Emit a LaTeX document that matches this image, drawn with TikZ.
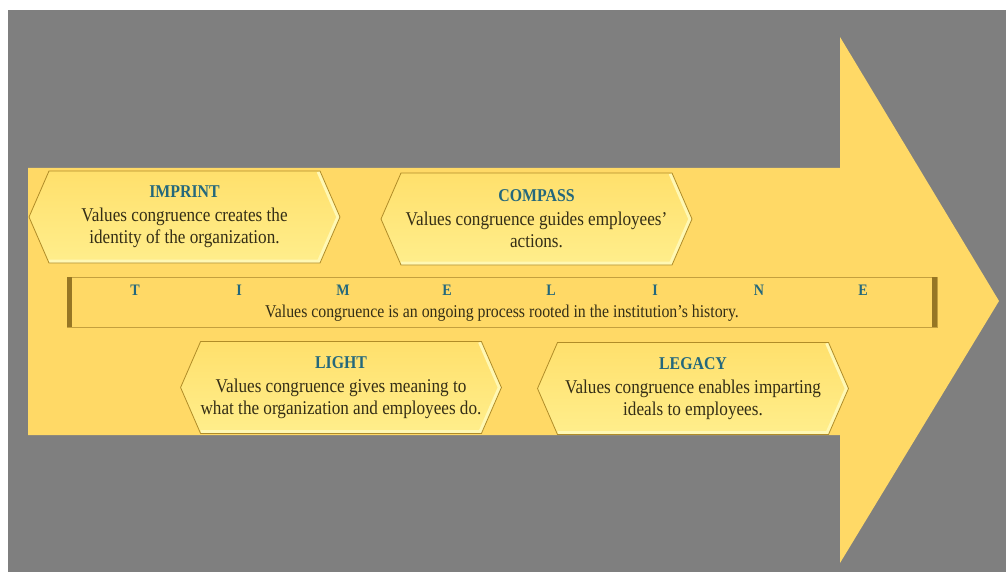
\documentclass[tikz,border=0pt]{standalone}
\usepackage{fontspec}
\setmainfont{Liberation Serif}[FakeStretch=0.88]
\usepackage{xcolor}
\usepackage{tikz}
\usetikzlibrary{positioning, shapes.symbols}
\definecolor{backgray}{RGB}{127,127,127}
\definecolor{arrowgold}{RGB}{255,217,102}
\definecolor{boxtop}{RGB}{255,224,108}
\definecolor{boxbot}{RGB}{255,238,140}
\definecolor{boxhi}{RGB}{255,248,180}
\definecolor{boxline}{RGB}{176,140,40}
\definecolor{barline}{RGB}{196,160,62}
\definecolor{baredge}{RGB}{150,118,36}
\definecolor{titleteal}{RGB}{36,104,124}
\definecolor{bodytext}{RGB}{52,46,22}
\newcommand{\boxtitle}[1]{{\color{titleteal}\fontsize{18}{22}\selectfont\bfseries #1}\\[2pt]}

\begin{document}
\begin{tikzpicture}[
  x=1pt, y=-1pt,
  hexbox/.style={signal, signal to=west and east, signal pointer angle=133,
                 draw=boxline, line width=0.8pt,
                 top color=boxtop, bottom color=boxbot,
                 minimum width=311pt, minimum height=92pt,
                 align=center, text=bodytext, inner sep=0pt,
                 font=\fontsize{19.5}{22}\selectfont,
                 % pale rim along the lower right edges
                 path picture={\draw[boxhi, line width=7pt, line join=round]
                   ([xshift=-20pt]path picture bounding box.north east)
                   -- (path picture bounding box.east)
                   -- ([xshift=-20pt]path picture bounding box.south east)
                   -- ([xshift=20pt]path picture bounding box.south west);}},
  bar/.style={rectangle, draw=barline, line width=0.8pt, fill=arrowgold,
              minimum width=870pt, minimum height=50pt, inner sep=0pt},
  letter/.style={text=titleteal, font=\fontsize{16}{19}\selectfont\bfseries},
]
  % page and background
  \fill[white] (0,0) rectangle (1006,572);
  \fill[backgray] (8,10) rectangle (1006,572);

  % the big arrow
  \fill[arrowgold] (28,168) -- (840,168) -- (840,37) -- (999,301)
    -- (840,563) -- (840,435) -- (28,435) -- cycle;

  % timeline bar
  \node[bar] (timeline) at (502,302) {};
  \fill[baredge] (timeline.north west) rectangle ([xshift=5pt]timeline.south west);
  \fill[baredge] ([xshift=-5pt]timeline.north east) rectangle (timeline.south east);
  \foreach \l [count=\i] in {T,I,M,E,L,I,N,E}
    \node[letter] (tl\i) at (31+104*\i,290) {\l};
  \node[text=bodytext, font=\fontsize{18}{20}\selectfont] (history) at (502,313)
    {Values congruence is an ongoing process rooted in the institution's history.};

  % upper boxes
  \node[hexbox] (imprint) at (184.5,217)
    {\boxtitle{IMPRINT}
     Values congruence creates the\\identity of the organization.};
  \node[hexbox] (compass) at (536.5,219)
    {\boxtitle{COMPASS}
     Values congruence guides employees'\\actions.};

  % lower boxes
  \node[hexbox] (light) at (341,387.5)
    {\boxtitle{LIGHT}
     Values congruence gives meaning to\\what the organization and employees do.};
  \node[hexbox] (legacy) at (693,388.5)
    {\boxtitle{LEGACY}
     Values congruence enables imparting\\ideals to employees.};
\end{tikzpicture}
\end{document}
